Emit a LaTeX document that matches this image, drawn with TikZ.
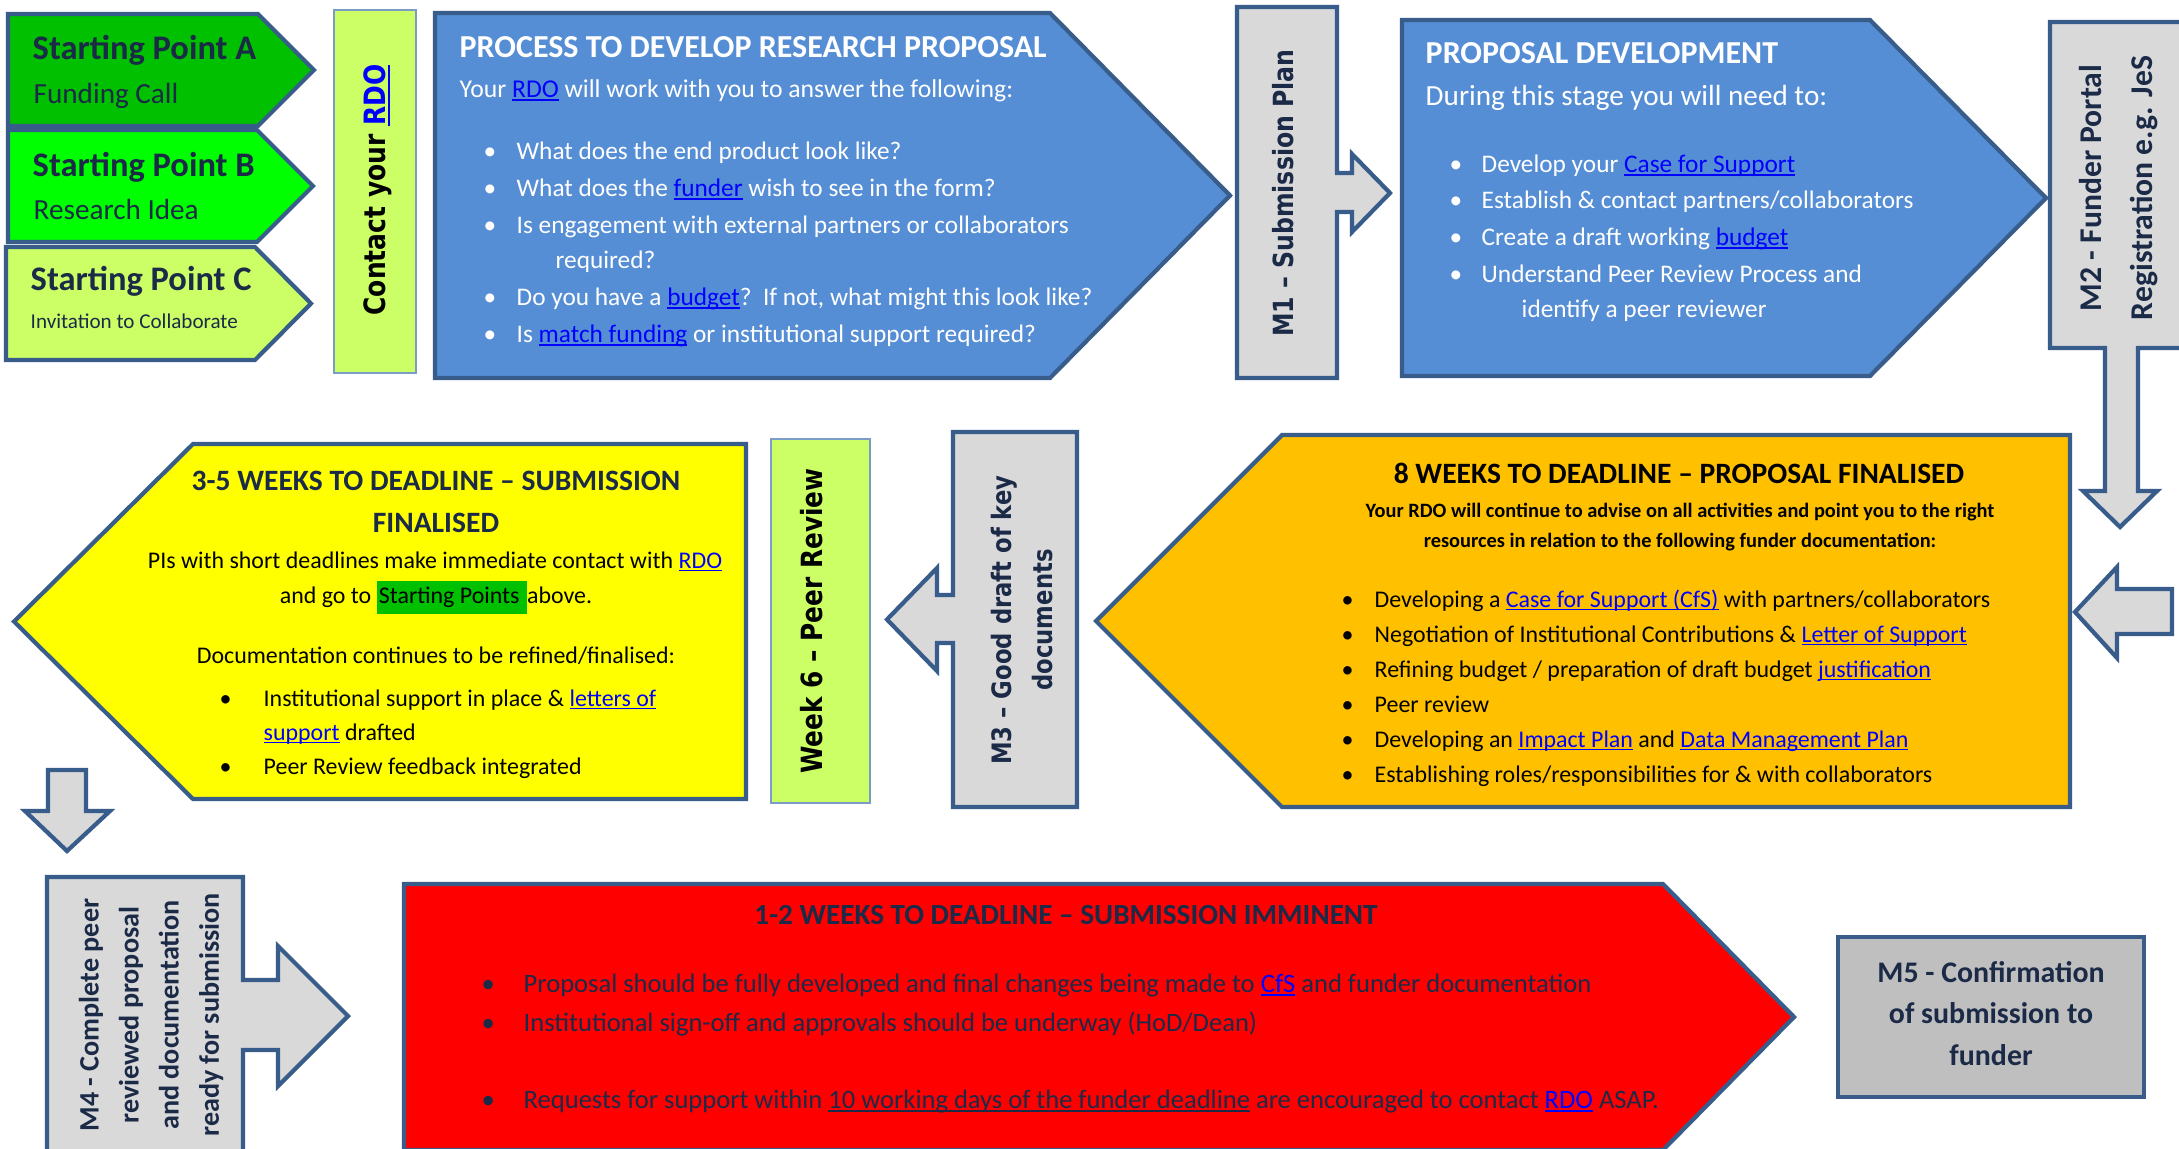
\documentclass[tikz,border=0pt]{standalone}
\usepackage{fontspec}
\setmainfont{Carlito}
\newfontfamily\dv[FakeStretch=0.85]{DejaVu Sans}
\definecolor{bord}{HTML}{385D8A}
\definecolor{thinb}{HTML}{7A9CC6}
\definecolor{blu}{HTML}{558ED5}
\definecolor{lgreen}{HTML}{CCFF66}
\definecolor{gA}{HTML}{00C000}
\definecolor{gB}{HTML}{00FF00}
\definecolor{gry}{HTML}{D9D9D9}
\definecolor{gry2}{HTML}{BFBFBF}
\definecolor{ylw}{HTML}{FFFF00}
\definecolor{org}{HTML}{FFC000}
\definecolor{rd}{HTML}{FF0000}
\definecolor{navy}{HTML}{1B2A47}
\definecolor{lnkc}{HTML}{0000FF}
\definecolor{hl}{HTML}{00C000}
\newsavebox\ulbox
\newcommand\uln[1]{\sbox\ulbox{#1}\rlap{\rule[-0.14em]{\wd\ulbox}{0.07em}}\usebox\ulbox}
\newcommand\lk[1]{\textcolor{lnkc}{\uln{#1}}}
\begin{document}
\begin{tikzpicture}[x=0.01cm,y=-0.01cm,
  shp/.style={draw=bord,line width=1.2pt,line join=miter},
  thinbox/.style={draw=thinb,line width=0.5pt,fill=lgreen},
  tx/.style={inner sep=0pt,anchor=base west},
  tc/.style={inner sep=0pt,anchor=base},
  spt/.style={tx,text=navy,font=\fontsize{9.8}{11}\selectfont\bfseries},
  sps/.style={tx,text=navy,font=\fontsize{8.3}{10}\selectfont},
  btitle/.style={tx,text=white,font=\fontsize{9.1}{11}\selectfont\bfseries},
  bbody/.style={tx,text=white,font=\fontsize{7.2}{9}\selectfont},
  ytitle/.style={tc,text=navy,font=\fontsize{8.4}{10}\selectfont\bfseries},
  ybody/.style={tx,text=black,font=\fontsize{6.8}{8}\selectfont},
  ycbody/.style={tc,text=black,font=\fontsize{6.8}{8}\selectfont},
  rbody/.style={tx,text=navy,font=\fontsize{7.55}{9}\selectfont},
  mbold/.style={tc,text=navy,font=\fontsize{8.5}{10}\selectfont\bfseries},
  vrot/.style={rotate=90,inner sep=0pt,text=navy,align=center}
]
\useasboundingbox (0,0) rectangle (2179,1148);
\fill[white] (0,0) rectangle (2179,1148);

% ---------- Row 1 ----------
\draw[shp,fill=gA] (8,14) -- (258,14) -- (314,70) -- (258,126) -- (8,126) -- cycle;
\draw[shp,fill=gB] (8,130) -- (257,130) -- (313,186) -- (257,242) -- (8,242) -- cycle;
\draw[shp,fill=lgreen] (6,247) -- (255,247) -- (311,303.5) -- (255,360) -- (6,360) -- cycle;
\node[spt] (spa) at (32,59) {Starting Point A};
\node[sps] (spa2) at (33,103) {Funding Call};
\node[spt] (spb) at (32,176) {Starting Point B};
\node[sps] (spb2) at (33,219) {Research Idea};
\node[spt] (spc) at (30,290) {Starting Point C};
\node[tx,text=navy,font=\fontsize{6}{7}\selectfont] (spc2) at (30,328) {Invitation to Collaborate};

\draw[thinbox] (334,10) rectangle (416,373);
\node[vrot,text=black,font=\dv\bfseries\fontsize{8.35}{9}\selectfont] (cont) at (378,190) {Contact your \lk{RDO}};

\draw[shp,fill=blu] (435,13) -- (1050,13) -- (1230,195.5) -- (1050,378) -- (435,378) -- cycle;
\node[btitle] (b1t) at (459,57) {PROCESS TO DEVELOP RESEARCH PROPOSAL};
\node[tx,text=white,font=\fontsize{7.3}{9}\selectfont] (b1s) at (459,97) {Your \lk{RDO} will work with you to answer the following:};
\node[bbody] (b1d1) at (483,159) {•};
\node[bbody] (b1l1) at (516,159) {What does the end product look like?};
\node[bbody] (b1d2) at (483,196) {•};
\node[bbody] (b1l2) at (516,196) {What does the \lk{funder} wish to see in the form?};
\node[bbody] (b1d3) at (483,233) {•};
\node[bbody] (b1l3) at (516,233) {Is engagement with external partners or collaborators};
\node[bbody] (b1l3b) at (555,268) {required?};
\node[bbody] (b1d4) at (483,305) {•};
\node[bbody] (b1l4) at (516,305) {Do you have a \lk{budget}?\ \ If not, what might this look like?};
\node[bbody] (b1d5) at (483,342) {•};
\node[bbody] (b1l5) at (516,342) {Is \lk{match funding} or institutional support required?};

% M1 with right arrow
\draw[shp,fill=gry] (1237,7) -- (1337,7) -- (1337,173) -- (1352,173) -- (1352,154) -- (1390,193) -- (1352,232) -- (1352,212) -- (1337,212) -- (1337,378) -- (1237,378) -- cycle;
\node[vrot,font=\dv\bfseries\fontsize{7.9}{9}\selectfont] (m1) at (1283,193) {M1 – Submission Plan};

\draw[shp,fill=blu] (1402,20) -- (1870,20) -- (2046,198) -- (1870,376) -- (1402,376) -- cycle;
\node[btitle] (b2t) at (1425,63) {PROPOSAL DEVELOPMENT};
\node[tx,text=white,font=\fontsize{8.3}{10}\selectfont] (b2s) at (1425,105) {During this stage you will need to:};
\node[bbody] (b2d1) at (1449,172) {•};
\node[bbody] (b2l1) at (1481,172) {Develop your \lk{Case for Support}};
\node[bbody] (b2d2) at (1449,208) {•};
\node[bbody] (b2l2) at (1481,208) {Establish \& contact partners/collaborators};
\node[bbody] (b2d3) at (1449,245) {•};
\node[bbody] (b2l3) at (1481,245) {Create a draft working \lk{budget}};
\node[bbody] (b2d4) at (1449,282) {•};
\node[bbody] (b2l4) at (1481,282) {Understand Peer Review Process and};
\node[bbody] (b2l4b) at (1521,317) {identify a peer reviewer};

% M2 with down arrow
\draw[shp,fill=gry] (2050,22) -- (2200,22) -- (2200,348) -- (2138,348) -- (2138,491) -- (2157,491) -- (2120,527) -- (2083,491) -- (2105,491) -- (2105,348) -- (2050,348) -- cycle;
\node[vrot,font=\fontsize{9}{14.5}\selectfont\bfseries] (m2) at (2119,188) {M2 - Funder Portal\\Registration e.g. JeS};

% ---------- Row 2 ----------
\draw[shp,fill=gry] (2172,589) -- (2117,589) -- (2117,567) -- (2075,612) -- (2117,658) -- (2117,634) -- (2172,634) -- cycle;

\draw[shp,fill=org] (1096,621) -- (1282,435) -- (2070,435) -- (2070,807) -- (1282,807) -- cycle;
\node[tc,text=black,font=\fontsize{8.4}{10}\selectfont\bfseries] (ot) at (1679,483) {8 WEEKS TO DEADLINE – PROPOSAL FINALISED};
\node[tc,text=black,font=\fontsize{5.8}{7}\selectfont\bfseries] (os1) at (1680,517) {Your RDO will continue to advise on all activities and point you to the right};
\node[tc,text=black,font=\fontsize{5.8}{7}\selectfont\bfseries] (os2) at (1680,547) {resources in relation to the following funder documentation:};
\node[ybody] (od1) at (1341,607) {•};
\node[ybody] (ol1) at (1374,607) {Developing a \lk{Case for Support (CfS)} with partners/collaborators};
\node[ybody] (od2) at (1341,642) {•};
\node[ybody] (ol2) at (1374,642) {Negotiation of Institutional Contributions \& \lk{Letter of Support}};
\node[ybody] (od3) at (1341,677) {•};
\node[ybody] (ol3) at (1374,677) {Refining budget / preparation of draft budget \lk{justification}};
\node[ybody] (od4) at (1341,712) {•};
\node[ybody] (ol4) at (1374,712) {Peer review};
\node[ybody] (od5) at (1341,747) {•};
\node[ybody] (ol5) at (1374,747) {Developing an \lk{Impact Plan} and \lk{Data Management Plan}};
\node[ybody] (od6) at (1341,782) {•};
\node[ybody] (ol6) at (1374,782) {Establishing roles/responsibilities for \& with collaborators};

% M3 with left arrow
\draw[shp,fill=gry] (953,432) -- (1077,432) -- (1077,807) -- (953,807) -- (953,643) -- (937,643) -- (937,671) -- (887,619.5) -- (937,568) -- (937,595) -- (953,595) -- cycle;
\node[vrot,font=\dv\bfseries\fontsize{7.6}{11.4}\selectfont] (m3) at (1022,620) {M3 – Good draft of key\\documents};

\draw[thinbox] (771,439) rectangle (870,803);
\node[vrot,text=black,font=\dv\bfseries\fontsize{8.3}{9}\selectfont] (wk6) at (812,621) {Week 6 – Peer Review};

\draw[shp,fill=ylw] (14,621.5) -- (193,444) -- (746,444) -- (746,799) -- (193,799) -- cycle;
\node[ytitle] (yt1) at (436,490) {3-5 WEEKS TO DEADLINE – SUBMISSION};
\node[ytitle] (yt2) at (436,532) {FINALISED};
\node[ycbody] (yb1) at (435,568) {PIs with short deadlines make immediate contact with \lk{RDO}};
\node[ycbody] (yb2) at (436,603) {and go to {\fboxsep=0.6pt\colorbox{hl}{\strut Starting Points\ }}above.};
\node[ycbody] (yb3) at (436,663) {Documentation continues to be refined/finalised:};
\node[ybody] (yd1) at (219,706) {•};
\node[ybody] (yl1) at (263,706) {Institutional support in place \& \lk{letters of}};
\node[ybody] (yl1b) at (263,740) {\lk{support} drafted};
\node[ybody] (yd2) at (219,774) {•};
\node[ybody] (yl2) at (263,774) {Peer Review feedback integrated};

% ---------- Row 3 ----------
\draw[shp,fill=gry] (48,770) -- (86,770) -- (86,811) -- (110,811) -- (67,851) -- (25,811) -- (48,811) -- cycle;

\draw[shp,fill=gry] (47,877) -- (243,877) -- (243,980) -- (278,980) -- (278,946) -- (348,1016) -- (278,1086) -- (278,1050) -- (243,1050) -- (243,1170) -- (47,1170) -- cycle;
\node[vrot,font=\fontsize{8}{11.4}\selectfont\bfseries] (m4) at (151,1015) {M4 - Complete peer\\reviewed proposal\\and documentation\\ready for submission};

\draw[shp,fill=rd] (404,884) -- (1663,884) -- (1794,1017) -- (1663,1150) -- (404,1150) -- cycle;
\node[tc,text=navy,font=\fontsize{8.3}{10}\selectfont\bfseries] (rt) at (1066,924) {1-2 WEEKS TO DEADLINE – SUBMISSION IMMINENT};
\node[rbody] (rd1) at (481,992) {•};
\node[rbody] (rl1) at (523,992) {Proposal should be fully developed and final changes being made to \lk{CfS} and funder documentation};
\node[rbody] (rd2) at (481,1031) {•};
\node[rbody] (rl2) at (523,1031) {Institutional sign-off and approvals should be underway (HoD/Dean)};
\node[rbody] (rd3) at (481,1108) {•};
\node[rbody] (rl3) at (523,1108) {Requests for support within \uln{10 working days of the funder deadline} are encouraged to contact \lk{RDO} ASAP.};

\draw[shp,fill=gry2] (1838,937) rectangle (2144,1097);
\node[mbold] (m5a) at (1991,982) {M5 - Confirmation};
\node[mbold] (m5b) at (1991,1023) {of submission to};
\node[mbold] (m5c) at (1991,1065) {funder};
\end{tikzpicture}
\end{document}
